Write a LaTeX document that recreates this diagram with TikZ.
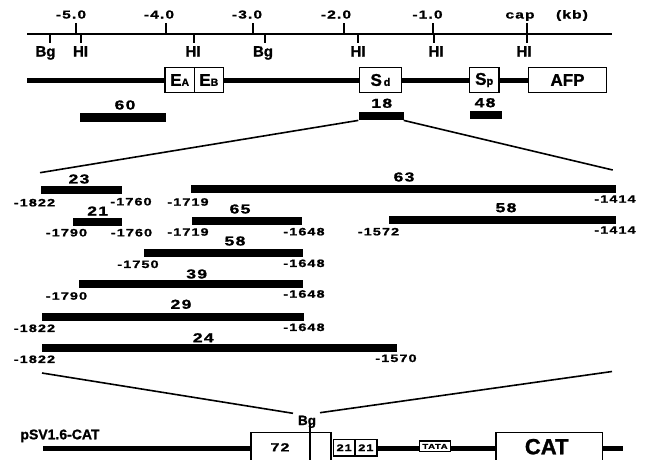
\documentclass[tikz,border=0pt]{standalone}
\usepackage{fontspec}
\setmainfont{Liberation Sans}
\newfontfamily\numfont{Liberation Sans}[UprightFont={* Bold},BoldFont={* Bold},FakeStretch=1.35,LetterSpace=10,FakeBold=1.2]
\newfontfamily\wordfont{Liberation Sans}[UprightFont={* Bold},BoldFont={* Bold},FakeBold=1.2]
\newcommand\myfs[1]{\fontsize{#1}{#1}\selectfont}
\tikzset{
  axlab/.style={font=\numfont\myfs{11.5}, inner sep=0pt, anchor=base},
  site/.style={font=\wordfont\myfs{15}, inner sep=0pt, anchor=base},
  frag/.style={font=\numfont\myfs{13}, inner sep=0pt},
  ntlab/.style={font=\numfont\myfs{10.7}, inner sep=0pt},
  fragbar/.style={fill=black, draw=none, inner sep=0pt, minimum height=8pt, anchor=west},
  genebox/.style={draw, line width=1.5pt, fill=white, inner sep=0pt, minimum height=25pt},
  geneline/.style={line width=5pt},
  thinline/.style={line width=1.6pt},
  tickline/.style={line width=1.8pt}
}
\begin{document}
\begin{tikzpicture}[x=1pt,y=-1pt]
\clip (0,0) rectangle (646,459);
\fill[white] (0,0) rectangle (646,459);

% ---------- top scale ----------
\coordinate (axL) at (27,34);
\coordinate (axR) at (612,34);
\draw[thinline] (axL) -- (axR);
\foreach \x in {76,166,253,344,433,527} \draw[tickline] (\x,23) -- (\x,34);
\node[axlab] (k5) at (71,18.5) {-5.0};
\node[axlab] (k4) at (159,18.5) {-4.0};
\node[axlab] (k3) at (247,18.5) {-3.0};
\node[axlab] (k2) at (336,18.5) {-2.0};
\node[axlab] (k1) at (427.5,18.5) {-1.0};
\node[axlab] (kcap) at (520,18.5) {cap};
\node[axlab] (kb) at (572,18.5) {(kb)};
\foreach \x in {50,81,194,265,358,434,527} \draw[tickline] (\x,34) -- (\x,43);
\node[site] (s1) at (45.5,56.5) {Bg};
\node[site] (s2) at (80.5,56.5) {HI};
\node[site] (s3) at (193,56.5) {HI};
\node[site] (s4) at (263,56.5) {Bg};
\node[site] (s5) at (358,56.5) {HI};
\node[site] (s6) at (436,56.5) {HI};
\node[site] (s7) at (524,56.5) {HI};

% ---------- gene map ----------
\coordinate (gstart) at (27,80);
\node[genebox, minimum width=29.3pt, font=\wordfont\myfs{17}] (EA) at (179.65,80) {E{\myfs{10.5}A}};
\node[genebox, minimum width=29pt, font=\wordfont\myfs{17}] (EB) at (208.8,80) {E{\myfs{10.5}B}};
\node[genebox, minimum width=42.4pt, font=\wordfont\myfs{17}] (Sd) at (380.5,80) {S{\myfs{11}\,d}};
\node[genebox, minimum width=29.7pt, font=\wordfont\myfs{17}] (Sp) at (484.2,80) {S{\myfs{11}p}};
\node[genebox, minimum width=78.4pt, font=\wordfont\myfs{17}] (AFP) at (567.5,80) {AFP};
\draw[geneline] (gstart) -- (EA.west);
\draw[geneline] (EB.east) -- (Sd.west);
\draw[geneline] (Sd.east) -- (Sp.west);
\draw[geneline] (Sp.east) -- (AFP.west);

% ---------- probes ----------
\node[fragbar, minimum width=86pt, minimum height=8.4pt] (b60) at (80,117.5) {};
\node[fragbar, minimum width=45pt, minimum height=8.4pt] (b18) at (358.3,116) {};
\node[fragbar, minimum width=31.7pt, minimum height=8.4pt] (b48) at (470,115) {};
\node[frag] (l60) at (125,105) {60};
\node[frag] (l18) at (381.7,103.3) {18};
\node[frag] (l48) at (485,102.7) {48};

\coordinate (zL) at (40,172.7);
\coordinate (zR) at (612.7,170);
\draw[thinline] (b18.south west) -- (zL);
\draw[thinline] (b18.south east) -- (zR);

% ---------- deletion fragments ----------
\node[fragbar, minimum width=81pt] (b23) at (40.7,190) {};
\node[fragbar, minimum width=425pt] (b63) at (191,189) {};
\node[fragbar, minimum width=49.3pt] (b21) at (72.7,221.7) {};
\node[fragbar, minimum width=110.3pt] (b65) at (191.7,221) {};
\node[fragbar, minimum width=227.3pt] (b58r) at (388.7,219.5) {};
\node[fragbar, minimum width=159pt] (b58l) at (143.3,252.5) {};
\node[fragbar, minimum width=224pt] (b39) at (78.3,284) {};
\node[fragbar, minimum width=261.6pt] (b29) at (41.7,317) {};
\node[fragbar, minimum width=355.3pt] (b24) at (41.7,348) {};

\node[frag] (l23) at (79,179) {23};
\node[ntlab] (p1) at (34.5,202.7) {-1822};
\node[ntlab] (p2) at (131,201.7) {-1760};
\node[ntlab] (p3) at (188,202) {-1719};
\node[frag] (l63) at (404,177) {63};
\node[ntlab] (p4) at (615,199) {-1414};

\node[frag] (l21) at (97.7,211) {21};
\node[ntlab] (p5) at (66.5,232.7) {-1790};
\node[ntlab] (p6) at (131.5,232.7) {-1760};
\node[ntlab] (p7) at (188,232) {-1719};
\node[frag] (l65) at (240,209) {65};
\node[ntlab] (p8) at (304,231.7) {-1648};
\node[frag] (l58r) at (506,207.7) {58};
\node[ntlab] (p9) at (378.5,231.7) {-1572};
\node[ntlab] (p10) at (615,230) {-1414};

\node[frag] (l58l) at (235,241) {58};
\node[ntlab] (p11) at (138,264.3) {-1750};
\node[ntlab] (p12) at (304,263.3) {-1648};

\node[frag] (l39) at (196.7,274) {39};
\node[ntlab] (p13) at (66.5,296) {-1790};
\node[ntlab] (p14) at (304,294) {-1648};

\node[frag] (l29) at (181,304.3) {29};
\node[ntlab] (p15) at (34.5,328.3) {-1822};
\node[ntlab] (p16) at (304,327.3) {-1648};

\node[frag] (l24) at (203.3,337.7) {24};
\node[ntlab] (p17) at (34.5,359.3) {-1822};
\node[ntlab] (p18) at (396,358.3) {-1570};

% ---------- pSV1.6-CAT ----------
\coordinate (eL) at (42,373);
\coordinate (eR) at (612,371.5);
\coordinate (bgL) at (293,413.3);
\coordinate (bgR) at (320,412.7);
\draw[thinline] (eL) -- (bgL);
\draw[thinline] (eR) -- (bgR);
\node[site, font=\wordfont\myfs{13.5}] (bg) at (307,425) {Bg};

\node[site, font=\wordfont\myfs{14}] (psv) at (60,439.3) {pSV1.6-CAT};
\coordinate (pstart) at (43,448);
\coordinate (pend) at (623.3,448);
\node[genebox, minimum width=80pt, minimum height=40pt, anchor=north west] (b72) at (250,431.7) {};
\node[font=\numfont\myfs{11.8}, inner sep=0pt] (l72) at (280,447.3) {72};
\coordinate (divT) at (310,423);
\coordinate (divB) at (310,472);
\draw[line width=1.5pt] (divT) -- (divB);
\node[genebox, minimum width=21.7pt, minimum height=16.7pt, font=\numfont\myfs{9.5}] (r1) at (344.2,447.7) {21};
\node[genebox, minimum width=21.7pt, minimum height=16.7pt, font=\numfont\myfs{9.5}] (r2) at (365.9,447.7) {21};
\node[genebox, line width=1.3pt, minimum width=31.4pt, minimum height=10.7pt, font=\numfont\myfs{7}] (tata) at (435,446.4) {TATA};
\node[genebox, minimum width=106.7pt, minimum height=40pt, anchor=north west] (cat) at (495,431.7) {};
\node[font=\wordfont\myfs{22}, inner sep=0pt] (lcat) at (546.7,446.7) {CAT};
\draw[geneline] (pstart) -- (b72.west |- pstart);
\draw[geneline] (r2.east |- pstart) -- (tata.west |- pstart);
\draw[geneline] (tata.east |- pstart) -- (cat.west |- pstart);
\draw[geneline] (cat.east |- pstart) -- (pend);
\end{tikzpicture}
\end{document}
